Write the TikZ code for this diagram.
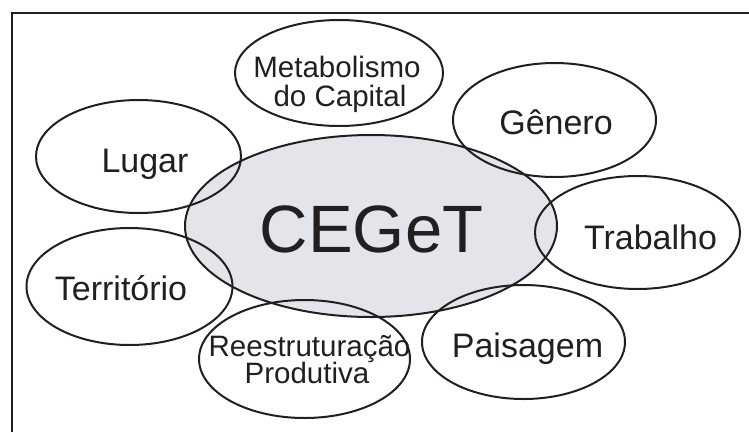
\documentclass[tikz,border=0pt]{standalone}
\usepackage{fontspec}
\setmainfont{Liberation Sans}
\usetikzlibrary{shapes.geometric}
\definecolor{ink}{RGB}{35,31,32}
\definecolor{hubfill}{RGB}{228,229,234}
\begin{document}
\begin{tikzpicture}[x=1pt,y=-1pt,
  bubble/.style={ellipse, draw=ink, line width=2pt, inner sep=0pt},
  lbl/.style={anchor=base, text=ink, inner sep=0pt, font=\fontsize{34}{34}\selectfont},
  lblsmall/.style={anchor=base, text=ink, inner sep=0pt, font=\fontsize{29.5}{29.5}\selectfont},
  frame/.style={draw=ink, line width=2pt}]
\useasboundingbox (0,0) rectangle (749,432);
\fill[white] (0,0) rectangle (749,432);
% frame (only top and left edges visible)
\coordinate (fa) at (11.5,432);
\coordinate (fb) at (11.5,12.5);
\coordinate (fc) at (749,12.5);
\draw[frame] (fa) -- (fb) -- (fc);
% central ellipse
\node[bubble, fill=hubfill, minimum width=372pt, minimum height=182pt] (hub) at (371,226) {};
% surrounding ellipses
\node[bubble, minimum width=208pt, minimum height=106pt] (meta) at (339,73) {};
\node[bubble, minimum width=203pt, minimum height=114pt] (genero) at (554.5,120) {};
\node[bubble, minimum width=205pt, minimum height=113pt] (trabalho) at (637.5,232.5) {};
\node[bubble, minimum width=205pt, minimum height=113pt] (lugar) at (138.5,156.5) {};
\node[bubble, minimum width=206pt, minimum height=117pt] (territorio) at (129.5,286.5) {};
\node[bubble, minimum width=211pt, minimum height=118pt] (reestr) at (304.5,359) {};
\node[bubble, minimum width=203pt, minimum height=114pt] (paisagem) at (523.5,342) {};
% labels
\node[anchor=base, text=ink, inner sep=0pt, font=\fontsize{67}{67}\selectfont] (thub) at (371.5,252) {CEGeT};
\node[lblsmall] (tmeta1) at (337,77) {Metabolismo};
\node[lblsmall] (tmeta2) at (340,106) {do Capital};
\node[lbl] (tgenero) at (556,134) {Gênero};
\node[lbl] (ttrabalho) at (650.5,249) {Trabalho};
\node[lbl] (tlugar) at (145,172) {Lugar};
\node[lbl] (tterritorio) at (121,300) {Território};
\node[lblsmall] (treestr1) at (309.5,356) {Reestruturação};
\node[lblsmall] (treestr2) at (307,383) {Produtiva};
\node[lbl] (tpaisagem) at (527.5,357) {Paisagem};
\end{tikzpicture}
\end{document}
